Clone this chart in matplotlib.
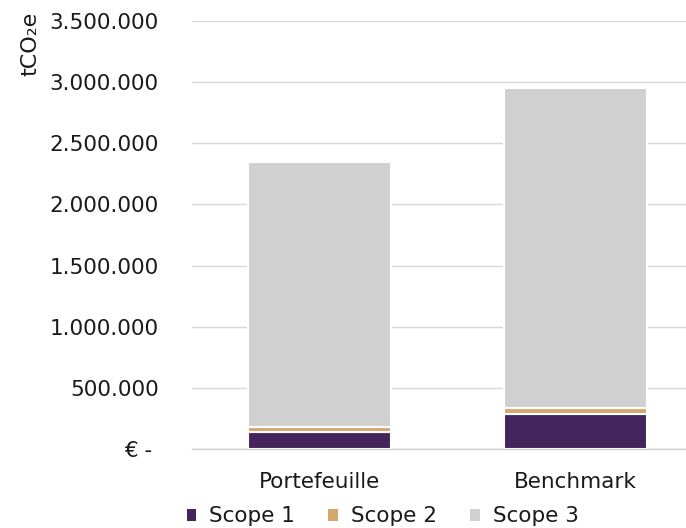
import matplotlib.pyplot as plt
from matplotlib.ticker import FuncFormatter
from matplotlib.patches import Patch

# emissions per scope, tCO2e
categories = ["Portefeuille", "Benchmark"]
scope1 = [140000, 285000]
scope2 = [40000, 48000]
scope3 = [2170000, 2620000]

colors = {"Scope 1": "#45245b", "Scope 2": "#d4a76c", "Scope 3": "#d0d0d0"}

plt.rcParams["font.family"] = "DejaVu Sans"

fig = plt.figure(figsize=(6.86, 5.28), dpi=100)
ax = fig.add_axes([0.280, 0.150, 0.745, 0.810])

x = range(len(categories))
width = 0.56
bottom2 = [a for a in scope1]
bottom3 = [a + b for a, b in zip(scope1, scope2)]
ax.bar(x, scope1, width, color=colors["Scope 1"], edgecolor="white", linewidth=1.5, zorder=3)
ax.bar(x, scope2, width, bottom=bottom2, color=colors["Scope 2"], edgecolor="white", linewidth=1.5, zorder=3)
ax.bar(x, scope3, width, bottom=bottom3, color=colors["Scope 3"], edgecolor="white", linewidth=1.5, zorder=3)

ax.set_xlim(-0.5, 1.5)
ax.set_ylim(0, 3500000)
ax.set_yticks(range(0, 3500001, 500000))


def eur(v, pos):
    # accounting style: zero shown as a dash
    if v == 0:
        return "€ - "
    return f"{int(v):,}".replace(",", ".")


ax.yaxis.set_major_formatter(FuncFormatter(eur))
ax.set_xticks(list(x))
ax.set_xticklabels(categories)
ax.tick_params(axis="y", length=0, pad=24, labelsize=15.5, colors="#1a1a1a")
ax.tick_params(axis="x", length=0, pad=17, labelsize=15.5, colors="#1a1a1a")

ax.grid(axis="y", color="#d9d9d9", linewidth=1.0, zorder=0)
for side in ["top", "right", "left"]:
    ax.spines[side].set_visible(False)
ax.spines["bottom"].set_color("#d0d0d0")
ax.spines["bottom"].set_linewidth(1.0)
ax.spines["bottom"].set_zorder(4)

fig.text(0.044, 0.917, "tCO₂e", rotation=90, ha="center", va="center",
         fontsize=16, color="#1a1a1a")

handles = [Patch(facecolor=c, edgecolor="none", label=k) for k, c in colors.items()]
fig.legend(handles=handles, loc="center", bbox_to_anchor=(0.558, 0.022),
           ncol=3, frameon=False, fontsize=15.5, handlelength=0.45, handleheight=0.45,
           handletextpad=0.6, columnspacing=1.55, labelcolor="#1a1a1a")

fig.savefig("out.png", dpi=100)
